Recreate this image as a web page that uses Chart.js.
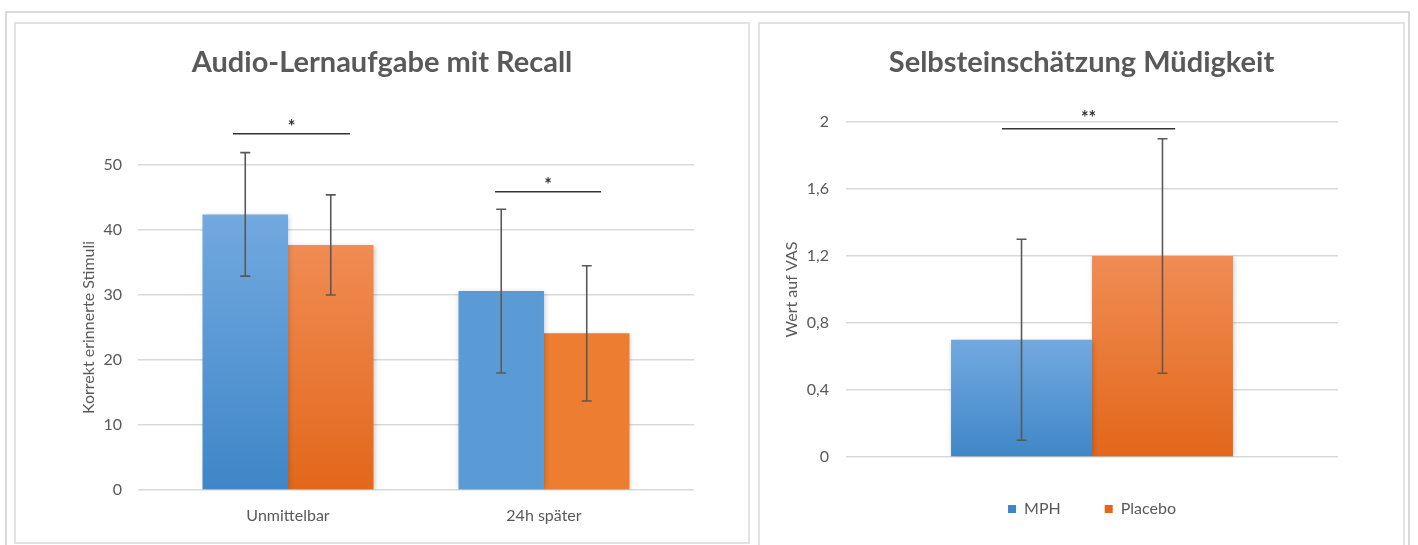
<!DOCTYPE html>
<html lang="de">
<head>
<meta charset="utf-8">
<title>Audio-Lernaufgabe / Müdigkeit</title>
<script src="https://cdn.jsdelivr.net/npm/chart.js@4.4.0/dist/chart.umd.min.js"></script>
<style>
  html, body { margin: 0; padding: 0; background: #fff; width: 1418px; height: 545px; overflow: hidden; }
  #frame { position: absolute; left: 5px; top: 11px; width: 1405px; height: 600px; border: 2px solid #d9d9d9; box-sizing: border-box; }
  .panel { position: absolute; top: 22px; border: 2px solid #e2e2e2; background: #fff; }
  #p1 { left: 14px; width: 732px; height: 518px; }
  #p2 { left: 758px; width: 643px; height: 560px; }
  canvas { display: block; }
</style>
</head>
<body>
<div id="frame"></div>
<div class="panel" id="p1"><canvas id="recall" width="732" height="518"></canvas></div>
<div class="panel" id="p2"><canvas id="fatigue" width="643" height="536"></canvas></div>
<script>
// ---- Audio-Lernaufgabe mit Recall ----
const recallCategories = ['Unmittelbar', '24h später'];
const recallMPH = [42.4, 30.6];
const recallMPHErr = [9.5, 12.6];
const recallPlacebo = [37.7, 24.1];
const recallPlaceboErr = [7.7, 10.4];
const recallTickValues = [0, 10, 20, 30, 40, 50];
const recallTickLabels = ['0', '10', '20', '30', '40', '50'];
const recallSigLevel = [54.8, 45.9];
const recallSigLabel = ['*', '*'];

// ---- Selbsteinschätzung Müdigkeit ----
const fatigueGroups = ['MPH', 'Placebo'];
const fatigueMeans = [0.7, 1.2];
const fatigueErr = [0.6, 0.7];
const fatigueTickValues = [0, 0.4, 0.8, 1.2, 1.6, 2];
const fatigueTickLabels = ['0', '0,4', '0,8', '1,2', '1,6', '2'];
const fatigueSigLevel = [1.96];
const fatigueSigLabel = ['**'];

const TEXT = '#595959';
const GRID = '#d9d9d9';
const FONT = 'Lato, "Open Sans", "DejaVu Sans", sans-serif';

const BLUE = { base: '#5b9bd5', light: '#72a9df', dark: '#3f86c8' };
const ORANGE = { base: '#ed7d31', light: '#f08c54', dark: '#e2671a' };

// Vertical gradient from the bar top down to the zero line; flat colour where shade[i] is false.
function barFill(col, shade) {
  return (c) => {
    const chart = c.chart;
    const ys = chart.scales && chart.scales.y;
    if (c.type !== 'data' || !ys || !chart.chartArea) return col.base;
    if (shade && !shade[c.dataIndex]) return col.base;
    const top = ys.getPixelForValue(c.parsed.y);
    const bottom = ys.getPixelForValue(0);
    if (!isFinite(top) || !isFinite(bottom) || top === bottom) return col.base;
    const g = chart.ctx.createLinearGradient(0, top, 0, bottom);
    g.addColorStop(0, col.light);
    g.addColorStop(1, col.dark);
    return g;
  };
}

// Empty right-hand axis that only reserves margin, so the title stays centred on the canvas.
function spacerAxis(width) {
  return {
    type: 'linear',
    position: 'right',
    display: true,
    afterFit: (s) => { s.width = width; },
    ticks: { display: false },
    grid: { display: false, drawTicks: false, drawOnChartArea: false },
    border: { display: false }
  };
}

// Soft drop shadow under every bar dataset.
const barShadow = {
  id: 'barShadow',
  beforeDatasetDraw(chart) {
    const ctx = chart.ctx;
    ctx.save();
    ctx.shadowColor = 'rgba(0,0,0,0.22)';
    ctx.shadowBlur = 5;
    ctx.shadowOffsetX = 1;
    ctx.shadowOffsetY = 1;
  },
  afterDatasetDraw(chart) { chart.ctx.restore(); }
};

// Symmetric error bars (mean ± error) centred on each bar.
const errorBars = {
  id: 'errorBars',
  afterDatasetsDraw(chart, args, opts) {
    const ctx = chart.ctx, ys = chart.scales.y;
    ctx.save();
    ctx.strokeStyle = opts.color || '#595959';
    ctx.lineWidth = opts.width || 1.5;
    const half = opts.cap || 5;
    chart.data.datasets.forEach((ds, i) => {
      const meta = chart.getDatasetMeta(i);
      if (!ds.errors || meta.hidden) return;
      meta.data.forEach((bar, j) => {
        const raw = ds.data[j];
        const v = typeof raw === 'object' ? raw.y : raw;
        const e = ds.errors[j];
        const x = bar.x;
        const yHi = ys.getPixelForValue(v + e);
        const yLo = ys.getPixelForValue(v - e);
        ctx.beginPath();
        ctx.moveTo(x, yHi); ctx.lineTo(x, yLo);
        ctx.moveTo(x - half, yHi); ctx.lineTo(x + half, yHi);
        ctx.moveTo(x - half, yLo); ctx.lineTo(x + half, yLo);
        ctx.stroke();
      });
    });
    ctx.restore();
  }
};

// Significance bars with their star labels.
const sigBrackets = {
  id: 'sigBrackets',
  afterDraw(chart, args, opts) {
    const ctx = chart.ctx, xs = chart.scales.x, ys = chart.scales.y;
    ctx.save();
    (opts.items || []).forEach(it => {
      const x1 = xs.getPixelForValue(it.from);
      const x2 = xs.getPixelForValue(it.to);
      const y = ys.getPixelForValue(it.level);
      ctx.strokeStyle = opts.color;
      ctx.lineWidth = opts.width;
      ctx.beginPath();
      ctx.moveTo(x1, y); ctx.lineTo(x2, y);
      ctx.stroke();
      ctx.fillStyle = opts.color;
      ctx.font = 'bold ' + opts.fontSize + 'px ' + FONT;
      ctx.textAlign = 'center';
      ctx.textBaseline = 'alphabetic';
      ctx.fillText(it.label, (x1 + x2) / 2, y + opts.textOffset);
    });
    ctx.restore();
  }
};

function tickFont(size) { return { family: FONT, size: size }; }

function buildCharts() {
  Chart.defaults.font.family = FONT;
  Chart.defaults.color = TEXT;

  // Left chart: two groups on a linear index axis so the group spacing can be set directly.
  const recallSpan = [[-0.215, 0.242], [-0.191, 0.223]];
  new Chart(document.getElementById('recall'), {
    type: 'bar',
    data: {
      datasets: [
        {
          label: 'MPH',
          data: recallMPH.map((v, i) => ({ x: i, y: v })),
          errors: recallMPHErr,
          backgroundColor: barFill(BLUE, [true, false]),
          borderWidth: 0,
          categoryPercentage: 0.668,
          barPercentage: 1.0
        },
        {
          label: 'Placebo',
          data: recallPlacebo.map((v, i) => ({ x: i, y: v })),
          errors: recallPlaceboErr,
          backgroundColor: barFill(ORANGE, [true, false]),
          borderWidth: 0,
          categoryPercentage: 0.668,
          barPercentage: 1.0
        }
      ]
    },
    options: {
      responsive: false,
      animation: false,
      devicePixelRatio: 1,
      layout: { padding: { left: 0, right: 0, top: 0, bottom: 0 } },
      scales: {
        x: {
          type: 'linear',
          offset: false,
          min: -0.586,
          max: 1.586,
          afterBuildTicks: (s) => { s.ticks = recallCategories.map((_, i) => ({ value: i })); },
          afterFit: (s) => { s.height = 52; },
          ticks: {
            callback: (v) => recallCategories[v],
            padding: 16,
            autoSkip: false,
            maxRotation: 0,
            color: TEXT,
            font: tickFont(16)
          },
          grid: { display: false, drawTicks: false, offset: false },
          border: { display: false }
        },
        y: {
          min: 0,
          max: 50,
          afterBuildTicks: (s) => { s.ticks = recallTickValues.map(v => ({ value: v })); },
          afterFit: (s) => { s.width = 122; },
          ticks: {
            callback: (v, i) => recallTickLabels[i],
            padding: 16,
            color: TEXT,
            font: tickFont(16)
          },
          grid: { color: GRID, lineWidth: 1.5, drawTicks: false },
          border: { display: false },
          title: {
            display: true,
            text: 'Korrekt erinnerte Stimuli',
            color: TEXT,
            font: { family: FONT, size: 16 },
            padding: { top: 63, bottom: 0 }
          }
        },
        rightMargin: spacerAxis(54)
      },
      plugins: {
        legend: { display: false },
        tooltip: { enabled: false },
        title: {
          display: true,
          text: 'Audio-Lernaufgabe mit Recall',
          color: TEXT,
          font: { family: FONT, size: 29, weight: 'bold', lineHeight: 1.2 },
          padding: { top: 21.6, bottom: 84.6 }
        },
        errorBars: { color: '#595959', width: 1.6, cap: 5 },
        sigBrackets: {
          color: '#333333', width: 1.5, fontSize: 18, textOffset: -1,
          items: recallSigLevel.map((lv, i) => ({
            from: i + recallSpan[i][0], to: i + recallSpan[i][1], level: lv, label: recallSigLabel[i]
          }))
        }
      }
    },
    plugins: [barShadow, errorBars, sigBrackets]
  });

  // Right chart: one unnamed group, legend below.
  const fatigueSpan = [[-0.183, 0.169]];
  const fatigueColours = [BLUE, ORANGE];
  new Chart(document.getElementById('fatigue'), {
    type: 'bar',
    data: {
      labels: [''],
      datasets: fatigueGroups.map((g, i) => ({
        label: g,
        data: [fatigueMeans[i]],
        errors: [fatigueErr[i]],
        backgroundColor: barFill(fatigueColours[i], null),
        borderWidth: 0,
        categoryPercentage: 0.573,
        barPercentage: 1.0
      }))
    },
    options: {
      responsive: false,
      animation: false,
      devicePixelRatio: 1,
      layout: { padding: { left: 0, right: 0, top: 0, bottom: 33 } },
      scales: {
        x: {
          afterFit: (s) => { s.height = 0; },
          ticks: { display: false },
          grid: { display: false, drawTicks: false },
          border: { display: false }
        },
        y: {
          min: 0,
          max: 2,
          afterBuildTicks: (s) => { s.ticks = fatigueTickValues.map(v => ({ value: v })); },
          afterFit: (s) => { s.width = 86; },
          ticks: {
            callback: (v, i) => fatigueTickLabels[i],
            padding: 17,
            color: TEXT,
            font: tickFont(16)
          },
          grid: { color: GRID, lineWidth: 1.5, drawTicks: false },
          border: { display: false },
          title: {
            display: true,
            text: 'Wert auf VAS',
            color: TEXT,
            font: { family: FONT, size: 16 },
            padding: { top: 22, bottom: 0 }
          }
        },
        rightMargin: spacerAxis(65)
      },
      plugins: {
        legend: {
          display: true,
          position: 'bottom',
          fullSize: false,
          labels: {
            boxWidth: 8,
            boxHeight: 8,
            padding: 44,
            color: TEXT,
            font: { family: FONT, size: 16 }
          }
        },
        tooltip: { enabled: false },
        title: {
          display: true,
          text: 'Selbsteinschätzung Müdigkeit',
          color: TEXT,
          font: { family: FONT, size: 29, weight: 'bold', lineHeight: 1.2 },
          padding: { top: 21.6, bottom: 41.6 }
        },
        errorBars: { color: '#595959', width: 1.6, cap: 5 },
        sigBrackets: {
          color: '#333333', width: 1.5, fontSize: 18, textOffset: -5,
          items: fatigueSigLevel.map((lv, i) => ({
            from: fatigueSpan[i][0], to: fatigueSpan[i][1], level: lv, label: fatigueSigLabel[i]
          }))
        }
      }
    },
    plugins: [barShadow, errorBars, sigBrackets]
  });
}

const fontsReady = (document.fonts && document.fonts.load)
  ? Promise.all([
      document.fonts.load('bold 29px Lato'),
      document.fonts.load('16px Lato')
    ]).catch(() => null)
  : Promise.resolve();
fontsReady.then(buildCharts);
</script>
</body>
</html>
